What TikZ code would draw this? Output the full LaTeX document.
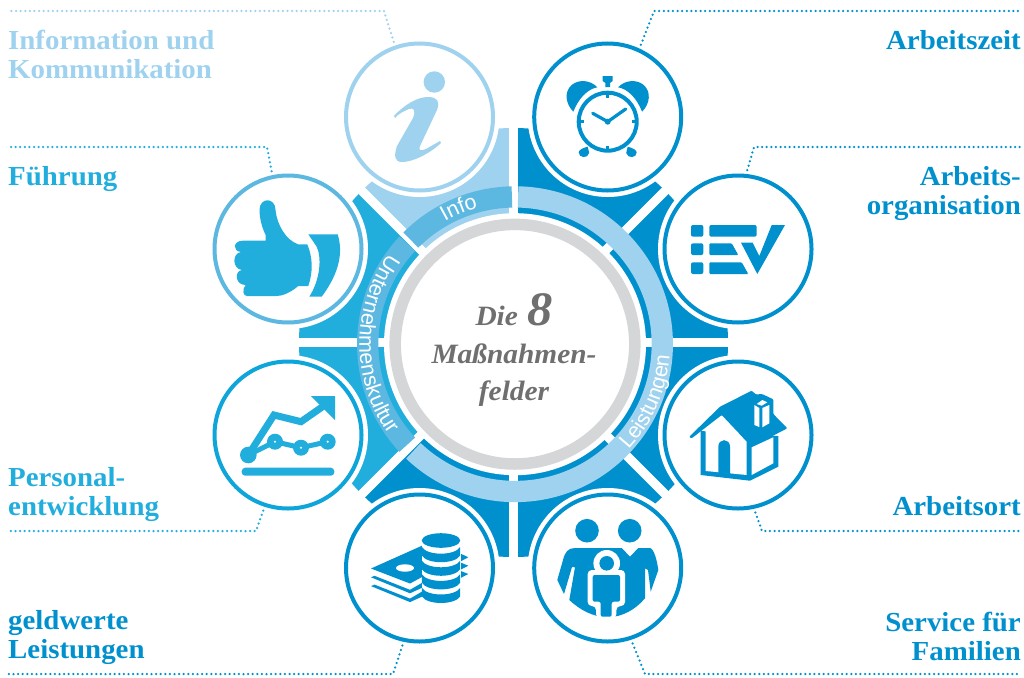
\documentclass[tikz,border=0pt]{standalone}
\usetikzlibrary{decorations.text}
\usepackage{fontspec}
\newfontfamily\bandfamily{Liberation Sans}
\newfontfamily\labelfamily[FakeStretch=1.05]{Liberation Serif}
\definecolor{lightb}{HTML}{9FD2EE}
\definecolor{bandb}{HTML}{5DB8E1}
\definecolor{midb}{HTML}{22AEDD}
\definecolor{chartb}{HTML}{0DA5DA}
\definecolor{darkb}{HTML}{0090CE}
\definecolor{ringg}{HTML}{D5D6D8}
\definecolor{titleg}{HTML}{6F6F70}
\newcommand{\labelsize}{\labelfamily\fontsize{27.5}{29}\selectfont}
\newcommand{\bandsize}{\bandfamily\fontsize{21.5}{21.5}\selectfont}
\tikzset{
  iconring/.style={draw=#1,circle,fill=white,line width=4pt,inner sep=0pt,outer sep=0pt,minimum size=147pt},
  leader/.style={draw=#1,line width=2.5pt,line cap=round,dash pattern=on 0pt off 4.6pt,shorten <=6pt},
  lblleft/.style={text=#1,font=\labelsize\bfseries,align=left,anchor=base west,inner sep=0pt},
  lblright/.style={text=#1,font=\labelsize\bfseries,align=right,anchor=base east,inner sep=0pt},
  title/.style={text=titleg,font=\labelfamily\fontsize{28}{28}\selectfont\bfseries\itshape,anchor=base,inner sep=0pt}
}
\begin{document}
\begin{tikzpicture}[x=1pt,y=-1pt]
\useasboundingbox (0,0) rectangle (1024,677);

%sectors
\begin{scope}[shift={(513.5,342.5)},y=1pt]
\foreach \a/\col in {45/darkb,0/darkb,-45/darkb,-90/darkb,-135/darkb,180/midb,135/midb,90/lightb}
  \fill[\col] (0,0) -- (\a:214.5) arc (\a:\a+45:214.5) -- cycle;
\foreach \a in {0,45,...,315}
  \draw[white,line width=9pt] (0,0) -- (\a:222);
\end{scope}

%bands and grey ring
\begin{scope}[shift={(515,344.2)},y=1pt]
\fill[white] (0,0) circle (131);
\draw[bandb,line width=21.3pt] (135:147.3) arc (135:91.2:147.3);
\draw[bandb,line width=21.3pt] (137:147.3) arc (137:223:147.3);
\draw[lightb,line width=21.3pt] (88.8:147.3) arc (88.8:-133.6:147.3);
\draw[ringg,line width=11.5pt] (0,0) circle (119.8);
\path[decorate,decoration={text along path,text align=center,text={|\color{white}\bandsize|Info}}] (135:141) arc (135:90:141);
\path[decorate,decoration={text along path,text align=center,text={|\color{white}\bandsize|Unternehmenskultur}}] (130:155.5) arc (130:230:155.5);
\path[decorate,decoration={text along path,text align=center,text={|\color{white}\bandsize|Leistungen}}] (-50:155) arc (-50:3:155);
\end{scope}

%icon rings
\foreach \name/\x/\y/\col in {info/419.5/117/lightb,zeit/607.7/117/darkb,fuehrung/288/249/bandb,orga/738/249/darkb,
  personal/288/435/chartb,ort/738/435/darkb,geld/419.5/568/darkb,familie/607.7/568/darkb}{
  \fill[white] (\x,\y) circle (80);
  \node[iconring=\col] (\name) at (\x,\y) {};
}

%leaders
\foreach \name/\ang/\bx/\by/\ex/\col in {info/109/384/11/8/lightb,zeit/65/654/11/1020/darkb,fuehrung/102/267/147/8/midb,
  orga/84/754/147/1020/darkb,personal/252/256/531/8/midb,ort/282/762/531/1020/darkb,geld/258/393/674/8/darkb,familie/288/645/674/1020/darkb}{
  \coordinate (\name bend) at (\bx,\by);
  \coordinate (\name end) at (\ex,\by);
  \draw[leader=\col] (\name.\ang) -- (\name bend) -- (\name end);
}

%info
\fill[lightb] (434.3,82) circle (10.7);
\fill[lightb] (394,116) .. controls (405,104) and (418,97) .. (428,97) .. controls (438,97) and (440,102) .. (437,110)
  -- (420,146) .. controls (418,151) and (421,151) .. (426,149) -- (440,141) -- (441,143)
  .. controls (428,155) and (412,162) .. (402,162) .. controls (394,162) and (394,155) .. (397,146)
  -- (413,118) .. controls (416,111) and (414,107) .. (409,109) .. controls (404,111) and (398,114) .. (395,118) -- cycle;

%clock
\begin{scope}[darkb]
\draw[line width=4pt] (607.7,121.7) circle (29);
\foreach \s in {1,-1}{
  \begin{scope}[shift={(607.7,0)},xscale=\s]
  \fill (-34.4,111.7) .. controls (-42,104) and (-44,92) .. (-36,85) .. controls (-29,79) and (-17,80) .. (-10.4,87.3)
    .. controls (-20,89) and (-29,98) .. (-34.4,111.7) -- cycle;
  \fill (-20,146.7) -- (-18.5,153) .. controls (-20,159) and (-29,158) .. (-29,152.5) .. controls (-29,150) and (-25,148) .. (-20,146.7) -- cycle;
  \draw[line width=2.5pt] (-29,121.7) -- (-24,121.7);
  \end{scope}
}
\draw[line width=2.5pt] (607.7,92.7) -- (607.7,97.7);
\draw[line width=2.5pt] (607.7,150.7) -- (607.7,145.7);
\fill (602.7,76) -- (612.7,76) -- (612.7,81) -- (610,83) -- (610,87) -- (605.4,87) -- (605.4,83) -- (602.7,81) -- cycle;
\draw[line width=3.2pt,line cap=round] (592.7,113.3) -- (607.7,121.7) -- (625.7,109);
\fill (607.7,121.7) circle (3);
\end{scope}

%thumb
\fill[midb] (259.5,210) .. controls (259.5,197) and (275.5,197) .. (275.5,210) .. controls (277,225) and (286,240) .. (298,244.3)
  -- (307.3,244.3) .. controls (313,258) and (313,272) .. (308.3,286) -- (298.3,286) .. controls (290,293) and (282,296) .. (276.7,296)
  -- (247,296) .. controls (243,296) and (242,290) .. (245.5,285) .. controls (235,285) and (234,271) .. (242,270)
  .. controls (232,269) and (232,253) .. (241,252) .. controls (232,251) and (233,240.7) .. (243,240.7) -- (265.7,240.7) -- (265.7,235)
  .. controls (262,228) and (259.5,218) .. (259.5,210) -- cycle;
\fill[midb] (308.3,234.3) -- (337.7,234.3) .. controls (343,252) and (340,272) .. (321.7,296.7) -- (309.3,296.7)
  .. controls (320,280) and (322,258) .. (316.7,246.7) -- cycle;

%list
\begin{scope}[darkb]
\foreach \ya/\yb in {225/236.7,243.3/255,262.3/274}
  \fill[rounded corners=2pt] (691,\ya) rectangle (703.3,\yb);
\fill[rounded corners=2pt] (709.3,225) rectangle (756.7,236.7);
\fill[rounded corners=1pt] (709.3,243.3) -- (731.7,243.3) -- (738.3,255) -- (709.3,255) -- cycle;
\fill[rounded corners=1pt] (709.3,262.3) -- (741.7,262.3) -- (748.3,274) -- (709.3,274) -- cycle;
\fill (741,242.7) -- (752.7,242.7) -- (759.3,256) -- (771.7,225) -- (785,225) -- (757.3,274) -- cycle;
\end{scope}

%chart
\begin{scope}[midb]
\fill[rounded corners=3.5pt] (241.7,467.7) rectangle (334.3,475.7);
\draw[line width=7pt] (248.3,455) -- (274,415) -- (301,421.7) -- (325,405);
\fill (311,396) -- (335,396) -- (335,420) -- cycle;
\draw[line width=5pt] (248.3,455) -- (275,441.7) -- (301,447.7) -- (327.7,441.7);
\fill (248.3,455) circle (8.3);
\foreach \x/\y in {275/441.7,301/447.7,327.7/441.7}{
  \fill (\x,\y) circle (8);
  \fill[white] (\x,\y) circle (1.2);
}
\end{scope}

%coins
\begin{scope}[darkb]
\fill (371,568.5) -- (422,545.7) -- (422,577) -- (410,583.5) -- cycle;
\fill[white] (405,568) ellipse (9 and 3.7);
\foreach \k in {1,2}
  \fill (371,568.5+8.8*\k) -- (374.5,567+8.8*\k) -- (410,581+8.8*\k) -- (422,574+8.8*\k) -- (422,579+8.8*\k) -- (410,584.5+8.8*\k) -- cycle;
\foreach \ya/\yb/\yc in {553.3/557.3/561.7,562.3/565.7/570,570.7/574/578.3}
  \fill (460,\ya) -- (468.3,\yb) -- (460,\yc) -- cycle;
\fill[white] (421.5,545) rectangle (460.5,606);
\fill (441,540.5) ellipse (19.2 and 7.3);
\foreach \k in {0,1,2,3}
  \fill (421.8,547+13.6*\k) .. controls (427,555.9+13.6*\k) and (455,555.9+13.6*\k) .. (460.2,547+13.6*\k) -- (460.2,555.5+13.6*\k)
    .. controls (455,564.4+13.6*\k) and (427,564.4+13.6*\k) .. (421.8,555.5+13.6*\k) -- cycle;
\end{scope}

%house
\begin{scope}[darkb]
\fill[line join=round] (700.7,431) -- (700.7,475) -- (750,480.7) -- (778.3,466.7) -- (778.3,436) -- cycle;
\fill[white] (705.7,427.3) -- (721.7,415) -- (746.7,441.7) -- (746.7,475) -- (705.7,471) -- cycle;
\fill[white] (751.7,447.3) -- (773.3,437.3) -- (773.3,463.3) -- (751.7,475) -- cycle;
\fill (718.3,446.7) .. controls (718.3,438) and (730,438) .. (730,446.7) -- (730,474) -- (718.3,472.7) -- cycle;
\fill[rounded corners=1pt] (689,437) -- (720,406.7) -- (751.7,390.7) -- (756,394.5) -- (762,394) -- (773.3,399.3) -- (773.3,414) -- (787.3,428.3)
  -- (751.7,446.7) -- (721.7,415) -- (691.7,438.3) -- cycle;
\fill[white] (754.3,405) -- (759.3,408) -- (759.3,427) -- (754.3,425) -- cycle;
\fill[white] (762.3,408) -- (769.3,405) -- (769.3,423.3) -- (762.3,427.3) -- cycle;
\fill[white] (756.7,404) -- (762.3,400) -- (767.3,402.3) -- (761.7,405.7) -- cycle;
\end{scope}

%family
\begin{scope}[darkb]
\fill (587,530.7) circle (11.8);
\fill (629.7,530.7) circle (11.8);
\fill (557.3,580) -- (563,560) .. controls (565,552) and (568,548) .. (575,548) -- (621.7,548) -- (630,556.7) -- (638.3,548) -- (650,548)
  .. controls (654,549) and (657,560) .. (658.3,570) -- (650.7,591.7) -- (648,570) -- (645,568.3) -- (645,598.3)
  .. controls (635,610) and (622,617) .. (607.7,617.3) .. controls (593,617) and (580,610) .. (569.3,600)
  -- (575,567.3) -- (572,567) -- (564,594) -- cycle;
\fill[white] (606.7,563.3) circle (13.3);
\fill[white,rounded corners=4pt] (587.7,570) -- (625,570) -- (625,606) -- (616.4,606) -- (616.4,618) -- (596,618) -- (596,606) -- (587.7,606) -- cycle;
\fill (606.7,563.3) circle (7.3);
\fill[rounded corners=2pt] (592.7,575) -- (620,575) -- (620,601.7) -- (611.7,601.7) -- (611.7,616.7) -- (600.7,616.7) -- (600.7,601.7) -- (592.7,601.7) -- cycle;
\end{scope}

%labels
\node[lblleft=lightb] (infolbl) at (8,78) {Information und\\Kommunikation};
\node[lblleft=midb] (fuehrunglbl) at (8,185) {Führung};
\node[lblleft=midb] (personallbl) at (8,515) {Personal-\\entwicklung};
\node[lblleft=darkb] (geldlbl) at (8,658) {geldwerte\\Leistungen};
\node[lblright=darkb] (zeitlbl) at (1021,49) {Arbeitszeit};
\node[lblright=darkb] (orgalbl) at (1021,214) {Arbeits-\\organisation};
\node[lblright=darkb] (ortlbl) at (1021,515) {Arbeitsort};
\node[lblright=darkb] (familielbl) at (1021,660) {Service für\\Familien};

%title
\node[title] (titlea) at (514,325) {Die \hspace{2pt}{\fontsize{48}{48}\selectfont 8}};
\node[title] (titleb) at (514,363) {Maßnahmen-};
\node[title] (titlec) at (514,400) {felder};
\end{tikzpicture}
\end{document}
